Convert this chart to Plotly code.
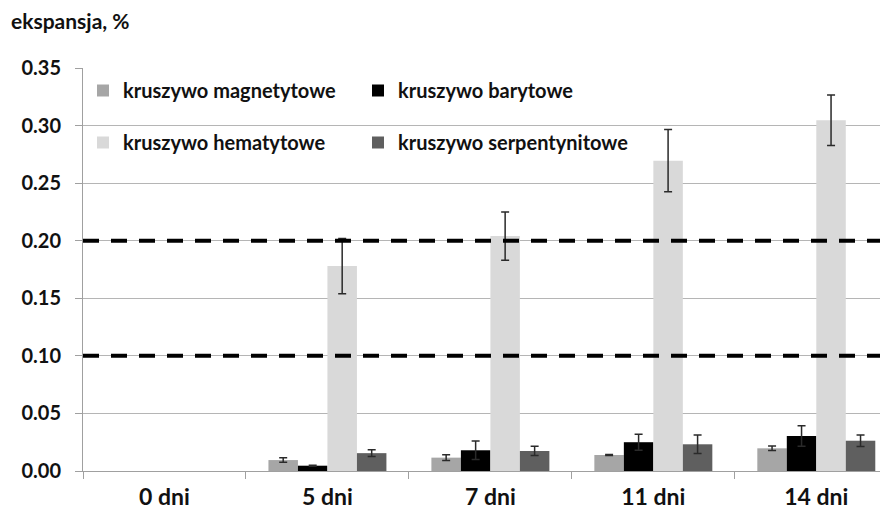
import plotly.graph_objects as go

categories = ["0 dni", "5 dni", "7 dni", "11 dni", "14 dni"]
series_names = ["kruszywo magnetytowe", "kruszywo barytowe",
                "kruszywo hematytowe", "kruszywo serpentynitowe"]
# 0 dni: no bars drawn in the reference (no measurable expansion)
magnetytowe = [None, 0.0095, 0.0116, 0.0139, 0.0197]
magnetytowe_err = [None, 0.002, 0.0025, 0.0004, 0.002]
barytowe = [None, 0.0046, 0.018, 0.025, 0.0304]
barytowe_err = [None, 0.0005, 0.008, 0.007, 0.009]
hematytowe = [None, 0.178, 0.204, 0.2695, 0.3046]
hematytowe_err = [None, 0.024, 0.021, 0.027, 0.022]
serpentynitowe = [None, 0.0155, 0.0174, 0.0232, 0.0263]
serpentynitowe_err = [None, 0.003, 0.004, 0.008, 0.005]
limit_lines = [0.10, 0.20]
y_ticks = [0.00, 0.05, 0.10, 0.15, 0.20, 0.25, 0.30, 0.35]

colors = ["#a6a6a6", "#000000", "#d9d9d9", "#5f5f5f"]
values = [magnetytowe, barytowe, hematytowe, serpentynitowe]
errors = [magnetytowe_err, barytowe_err, hematytowe_err, serpentynitowe_err]
legends = ["legend", "legend", "legend2", "legend2"]

FONT = "Lato"
fig = go.Figure()
for name, v, e, c, lg in zip(series_names, values, errors, colors, legends):
    fig.add_trace(go.Bar(
        x=categories, y=v, name=name, marker=dict(color=c, line=dict(width=0)),
        error_y=dict(type="data", array=e, visible=True, color="#2a2a2a",
                     thickness=1.5, width=4),
        legend=lg,
    ))

for yv in limit_lines:
    fig.add_shape(type="line", xref="paper", yref="y", x0=0, x1=1, y0=yv, y1=yv,
                  line=dict(color="black", width=4, dash="16px,12px"), layer="above")

legend_common = dict(orientation="h", xanchor="left", yanchor="top",
                     bgcolor="rgba(0,0,0,0)", entrywidth=230, itemwidth=30,
                     font=dict(family=FONT, size=20, color="#111", weight="bold"))

PW, PH = 805, 403
fig.update_layout(
    width=880, height=502,
    margin=dict(l=75, r=0, t=60, b=39),
    paper_bgcolor="white", plot_bgcolor="white",
    barmode="group", bargap=0.276, bargroupgap=0,
    font=dict(family=FONT, size=18, color="#111", weight="bold"),
    legend=dict(x=0, y=1 - 3/PH, **legend_common),
    legend2=dict(x=0, y=1 - 55/PH, **legend_common),
    xaxis=dict(range=[-0.5, 4.44], type="category", categoryorder="array",
               categoryarray=categories,
               showline=True, linecolor="#a0a0a0", linewidth=1,
               ticks="outside", tickson="boundaries", ticklen=7, tickcolor="#a0a0a0",
               showgrid=False, ticklabelstandoff=5,
               tickfont=dict(family=FONT, size=23, weight="bold")),
    yaxis=dict(range=[0, 0.35], tickvals=y_ticks, tickformat=".2f",
               showline=True, linecolor="#a0a0a0", linewidth=1,
               ticks="outside", ticklen=7, tickcolor="#a0a0a0",
               showgrid=True, gridcolor="#b5b5b5", gridwidth=1,
               zeroline=False, ticklabelstandoff=10,
               tickfont=dict(family=FONT, size=20, weight="bold")),
    annotations=[dict(text="ekspansja, %", xref="paper", yref="paper",
                      x=-74/PW, y=1 + 47/PH, xanchor="left", yanchor="middle",
                      showarrow=False,
                      font=dict(family=FONT, size=21, color="#111", weight="bold"))],
)

fig.write_html("out.html")
